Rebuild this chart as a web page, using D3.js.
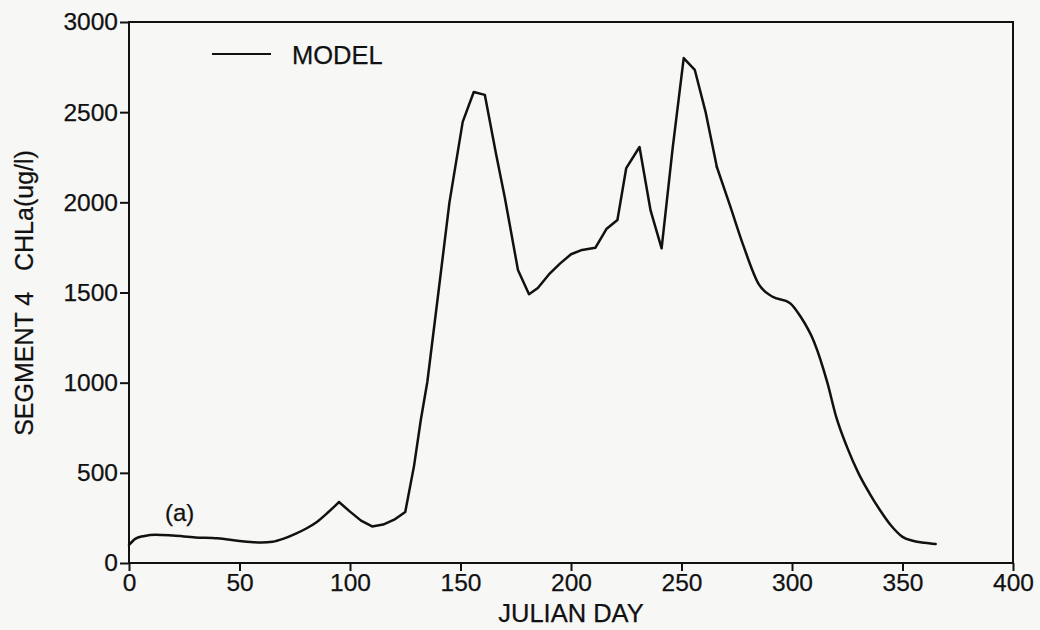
<!DOCTYPE html>
<html>
<head>
<meta charset="utf-8">
<script src="https://cdn.jsdelivr.net/npm/d3@7/dist/d3.min.js"></script>
<style>
  html, body { margin: 0; padding: 0; background: #f7f7f6; }
  svg { display: block; font-family: "Liberation Sans", Arial, Helvetica, sans-serif; }
  text { stroke: #111; stroke-width: 0.25px; }
</style>
</head>
<body>
<svg id="chart" width="1040" height="630"></svg>
<script>
// Simulated chlorophyll-a, segment 4, by Julian day
const days = [0, 3, 7, 12, 20, 30, 40, 50, 55, 60, 65, 70, 75, 80, 85, 90, 95,
  100, 105, 110, 115, 120, 125, 129, 132, 135, 140, 145, 151, 156, 161, 166,
  170, 176, 181, 185, 190, 195, 200, 205, 211, 216, 221, 225, 231, 236, 241,
  246, 251, 256, 261, 266, 272, 278, 285, 291, 299, 304, 310, 316, 320, 325,
  330, 335, 340, 345, 350, 355, 360, 365];
const chla = [100, 135, 150, 157, 152, 142, 137, 122, 116, 114, 118, 135, 160,
  190, 228, 280, 338, 285, 235, 203, 213, 240, 283, 540, 790, 1005, 1500, 2000,
  2446, 2612, 2596, 2274, 2030, 1625, 1490, 1525, 1600, 1660, 1712, 1736, 1748,
  1852, 1902, 2190, 2307, 1955, 1745, 2300, 2800, 2735, 2496, 2196, 1980, 1760,
  1545, 1478, 1442, 1364, 1226, 1000, 810, 640, 500, 388, 290, 205, 145, 122,
  112, 105];

const xTicks = [0, 50, 100, 150, 200, 250, 300, 350, 400];
const yTicks = [0, 500, 1000, 1500, 2000, 2500, 3000];

const seriesName = "MODEL";
const panelTag = "(a)";
const xTitle = "JULIAN DAY";
const yTitle = "SEGMENT 4\u00A0\u00A0\u00A0CHLa(ug/l)";

const ink = "#111";
const svg = d3.select("#chart");

const x = d3.scaleLinear().domain([0, 400]).range([129, 1013]);
const y = d3.scaleLinear().domain([0, 3000]).range([563, 22]);

// frame
svg.append("rect")
  .attr("x", x(0)).attr("y", y(3000))
  .attr("width", x(400) - x(0)).attr("height", y(0) - y(3000))
  .attr("fill", "none").attr("stroke", ink).attr("stroke-width", 2);

// axes
const xAxis = svg.append("g")
  .attr("transform", `translate(0,${y(0)})`)
  .call(d3.axisBottom(x).tickValues(xTicks).tickSize(8).tickPadding(3).tickFormat(d3.format("d")));
const yAxis = svg.append("g")
  .attr("transform", `translate(${x(0)},0)`)
  .call(d3.axisLeft(y).tickValues(yTicks).tickSize(9).tickPadding(2).tickFormat(d3.format("d")));

[xAxis, yAxis].forEach(g => {
  g.select(".domain").remove();
  g.selectAll(".tick line").attr("stroke", ink).attr("stroke-width", 2);
  g.selectAll(".tick text").attr("fill", ink).style("font-size", "24.5px");
});

// model curve: smooth through the quiet stretches, straight segments through the bloom
const pts = days.map((d, i) => ({ day: d, value: chla[i] }));
const pieces = [
  { from: 0, to: 95, curve: d3.curveMonotoneX },
  { from: 95, to: 266, curve: d3.curveLinear },
  { from: 266, to: 365, curve: d3.curveMonotoneX }
];

pieces.forEach(p => {
  const line = d3.line()
    .x(d => x(d.day))
    .y(d => y(d.value))
    .curve(p.curve);
  svg.append("path")
    .datum(pts.filter(d => d.day >= p.from && d.day <= p.to))
    .attr("d", line)
    .attr("fill", "none")
    .attr("stroke", ink)
    .attr("stroke-width", 2.5)
    .attr("stroke-linejoin", "round")
    .attr("stroke-linecap", "round");
});

// legend
svg.append("line")
  .attr("x1", 212).attr("x2", 271).attr("y1", 54).attr("y2", 54)
  .attr("stroke", ink).attr("stroke-width", 2);
svg.append("text")
  .attr("x", 292).attr("y", 64)
  .attr("fill", ink).style("font-size", "25.5px")
  .text(seriesName);

// panel tag
svg.append("text")
  .attr("x", 165).attr("y", 521)
  .attr("fill", ink).style("font-size", "24px")
  .text(panelTag);

// axis titles
svg.append("text")
  .attr("x", x(200)).attr("y", 622)
  .attr("text-anchor", "middle")
  .attr("fill", ink).style("font-size", "25.5px")
  .text(xTitle);

svg.append("text")
  .attr("transform", `translate(33,${293}) rotate(-90)`)
  .attr("text-anchor", "middle")
  .attr("fill", ink).style("font-size", "25px")
  .text(yTitle);
</script>
</body>
</html>
